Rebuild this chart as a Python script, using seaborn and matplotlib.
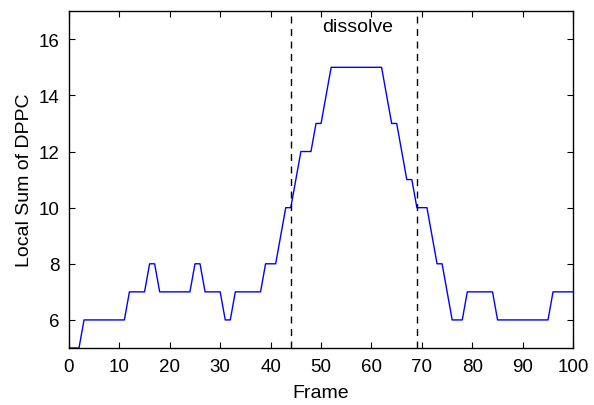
import numpy as np
import pandas as pd
import seaborn as sns
import matplotlib
matplotlib.use("Agg")
import matplotlib.pyplot as plt

# local DPPC count per frame
frames = list(range(0, 101))
dppc = ([5, 5, 5] + [6] * 9 + [7] * 4 + [8, 8] + [7] * 7 + [8, 8] + [7] * 4
        + [6, 6] + [7] * 6 + [8] * 3 + [9, 10, 10, 11, 12, 12, 12, 13, 13, 14]
        + [15] * 11 + [14, 13, 13, 12, 11, 11, 10, 10, 10, 9, 8, 8, 7]
        + [6] * 3 + [7] * 6 + [6] * 11 + [7] * 5)
dissolve_start = 44
dissolve_end = 69

df = pd.DataFrame({"Frame": frames, "DPPC": dppc})

sns.set_theme(style="white")
plt.rcParams["font.family"] = ["Liberation Sans", "DejaVu Sans"]
plt.rcParams["text.color"] = "black"
plt.rcParams["axes.labelcolor"] = "black"

fig = plt.figure(figsize=(5.94, 4.06), dpi=100)
ax = fig.add_axes([0.116, 0.1404, 0.849, 0.8296])

sns.lineplot(data=df, x="Frame", y="DPPC", color="#0000ff", linewidth=1.0, ax=ax)
for xv in (dissolve_start, dissolve_end):
    ax.axvline(xv, color="black", linestyle=(0, (5, 4)), linewidth=1.0)
ax.text(57.3, 16.45, "dissolve", ha="center", va="center", fontsize=14)

ax.set_xlim(0, 100)
ax.set_ylim(5, 17)
ax.set_xticks(range(0, 101, 10))
ax.set_yticks(range(6, 17, 2))
ax.set_xlabel("Frame", fontsize=14, labelpad=7)
ax.set_ylabel("Local Sum of DPPC", fontsize=14, labelpad=4)
ax.tick_params(direction="in", length=4, width=0.8, labelsize=13.5, colors="black",
               top=True, right=True, bottom=True, left=True, pad=7)
for s in ax.spines.values():
    s.set_color("black")
    s.set_linewidth(1.0)

fig.savefig("out.png", dpi=100)
